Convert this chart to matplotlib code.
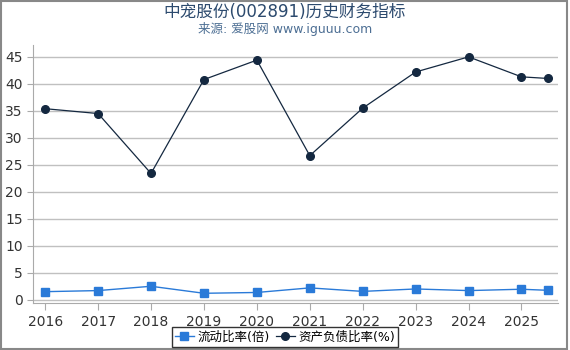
import matplotlib
matplotlib.use("Agg")
import matplotlib.pyplot as plt
from matplotlib.patches import Rectangle

plt.rcParams['font.family'] = ['DejaVu Sans', 'Noto Sans CJK SC']

# data
years = [2016, 2017, 2018, 2019, 2020, 2021, 2022, 2023, 2024, 2025, 2025.5]
current_ratio = [1.5, 1.7, 2.5, 1.2, 1.35, 2.2, 1.55, 2.0, 1.7, 1.95, 1.75]
debt_ratio = [35.4, 34.5, 23.4, 40.8, 44.4, 26.7, 35.5, 42.2, 45.0, 41.3, 41.0]
tick_years = [2016, 2017, 2018, 2019, 2020, 2021, 2022, 2023, 2024, 2025]
y_ticks = [0, 5, 10, 15, 20, 25, 30, 35, 40, 45]

fig = plt.figure(figsize=(5.7, 3.5), dpi=100)
ax = fig.add_axes([33 / 570, 1 - 303 / 350, (558 - 33) / 570, (303 - 45) / 350])

ax.plot(years, current_ratio, color='#2a7ad8', lw=1.0, marker='s', ms=5.5,
        label='流动比率(倍)')
ax.plot(years, debt_ratio, color='#142840', lw=0.9, marker='o', ms=5.5,
        label='资产负债比率(%)')

ax.set_xlim(2015.77, 2025.69)
ax.set_ylim(-0.6, 47.2)
ax.set_xticks(tick_years)
ax.set_xticklabels([str(y) for y in tick_years])
ax.set_yticks(y_ticks)
ax.grid(axis='y', color='#c0c0c0', lw=1)
ax.set_axisbelow(True)
for s in ['top', 'right']:
    ax.spines[s].set_visible(False)
ax.spines['left'].set_color('#aaaaaa')
ax.spines['bottom'].set_color('#aaaaaa')
ax.tick_params(axis='y', length=4, colors='#aaaaaa', labelcolor='#333333', labelsize=10)
ax.tick_params(axis='x', length=5, colors='#aaaaaa', labelcolor='#333333', labelsize=10)

fig.text(0.5, 0.966, '中宠股份(002891)历史财务指标', ha='center', va='center',
         fontsize=12, color='#2c4a6e')
fig.text(0.5, 0.918, '来源: 爱股网 www.iguuu.com', ha='center', va='center',
         fontsize=9, color='#4d6f94')

leg = fig.legend(loc='center', bbox_to_anchor=(285 / 570, 1 - 337 / 350), ncol=2,
                 frameon=True, fontsize=9, handlelength=1.5, handletextpad=0.3,
                 columnspacing=0.5, borderpad=0.25, fancybox=False)
leg.get_frame().set_edgecolor('black')
leg.get_frame().set_linewidth(1.0)

fig.patches.append(Rectangle((0.002, 0.003), 0.992, 0.994, transform=fig.transFigure,
                             fill=False, edgecolor='#888888', lw=1.5))

fig.savefig('out.png', dpi=100)
